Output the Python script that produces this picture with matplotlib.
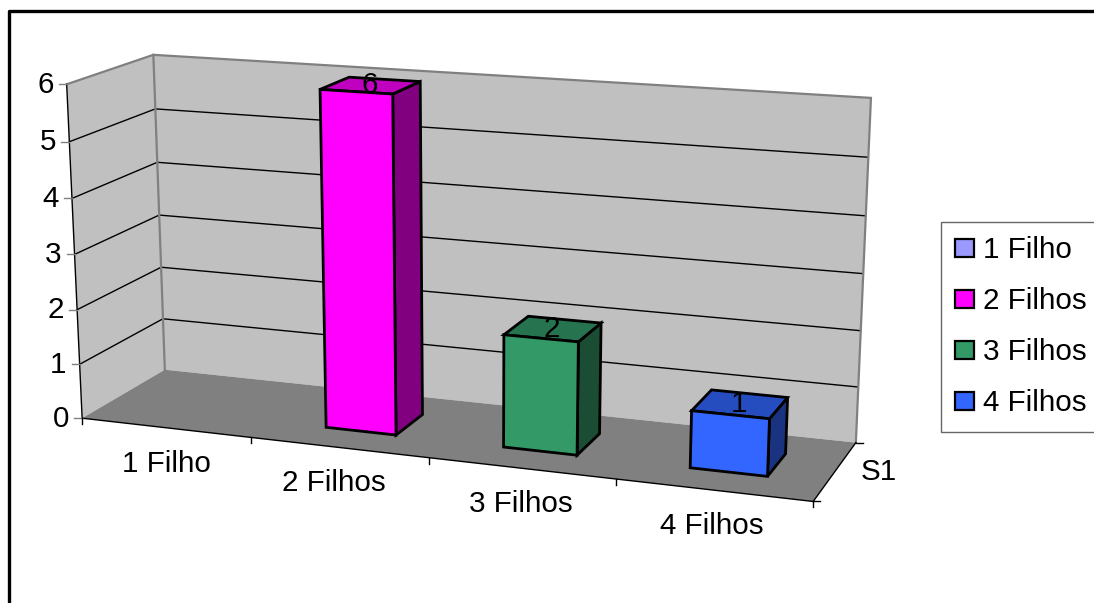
import matplotlib
matplotlib.use("Agg")
import matplotlib.pyplot as plt
import numpy as np
from matplotlib.patches import Patch

plt.rcParams["font.family"] = ["Liberation Sans", "DejaVu Sans"]

categories = ["1 Filho", "2 Filhos", "3 Filhos", "4 Filhos"]
values = [0, 6, 2, 1]
front_colors = ["#9999ff", "#ff00ff", "#339966", "#3366ff"]
top_colors = ["#7373bf", "#bf00bf", "#267350", "#264dbf"]
side_colors = ["#4d4d80", "#800080", "#1a4d33", "#1a3380"]
y_ticks = [0, 1, 2, 3, 4, 5, 6]
series_name = "S1"

FONT = 21.3
BAR_W = 0.4
DEPTH_FRONT = 0.3
DEPTH_BACK = 0.69
LABEL_DX = [1, -5, -1, -2]

# corners of the chart box: (category, depth, value) -> pixel
box_data = [(0, 0, 0), (0, 1, 0), (4, 1, 0), (4, 0, 0), (0, 0, 6), (0, 1, 6), (4, 1, 6)]
box_px = [(82, 418), (165, 370), (856, 442), (813, 502), (67, 84), (153, 55), (871, 98)]


def fit_projection():
    rows = []
    rhs = []
    for (a, b, c), (px, py) in zip(box_data, box_px):
        rows.append([a, b, c, 1, 0, 0, 0, 0, -px * a, -px * b, -px * c])
        rows.append([0, 0, 0, 0, a, b, c, 1, -py * a, -py * b, -py * c])
        rhs += [px, py]
    m = np.linalg.lstsq(np.array(rows, float), np.array(rhs, float), rcond=None)[0]
    return np.append(m, 1).reshape(3, 4)


M = fit_projection()


def proj(a, b, c):
    p = M @ np.array([a, b, c, 1.0])
    return p[0] / p[2], p[1] / p[2]


def face(ax, pts, color, edge="none", lw=0, z=1):
    xy = [proj(*p) for p in pts]
    ax.fill([q[0] for q in xy], [q[1] for q in xy], facecolor=color, edgecolor=edge,
            linewidth=lw, zorder=z, joinstyle="miter")


def line3(ax, pts, color="black", lw=1.0, z=2):
    xy = [proj(*p) for p in pts]
    ax.plot([q[0] for q in xy], [q[1] for q in xy], color=color, linewidth=lw, zorder=z,
            solid_joinstyle="miter")


fig = plt.figure(figsize=(10.94, 6.03), dpi=100)
ax = fig.add_axes([0, 0, 1, 1])
ax.set_xlim(0, 1094)
ax.set_ylim(603, 0)
ax.axis("off")

# outer frame of the chart area
ax.plot([9, 9, 1094], [603, 11, 11], color="black", linewidth=2.4, zorder=1)

n = len(categories)
top = max(y_ticks)

# walls and floor
face(ax, [(0, 0, 0), (0, 1, 0), (0, 1, top), (0, 0, top)], "#c0c0c0")
face(ax, [(0, 1, 0), (n, 1, 0), (n, 1, top), (0, 1, top)], "#c0c0c0")
face(ax, [(0, 0, 0), (n, 0, 0), (n, 1, 0), (0, 1, 0)], "#808080")

for v in y_ticks[1:-1]:
    line3(ax, [(0, 0, v), (0, 1, v), (n, 1, v)], lw=1.0)
line3(ax, [(0, 0, top), (0, 1, top), (n, 1, top), (n, 1, 0)], color="#808080", lw=1.6)
line3(ax, [(0, 1, top), (0, 1, 0)], color="#808080", lw=1.6)
line3(ax, [(0, 0, top), (0, 0, 0), (n, 0, 0), (n, 1, 0)], lw=1.0)

# value axis ticks and labels
for v in y_ticks:
    x, y = proj(0, 0, v)
    ax.plot([x - 8, x], [y, y], color="#808080", linewidth=1.0, zorder=2)
    ax.text(x - 13, y + 0.5, str(v), ha="right", va="center", fontsize=FONT, color="black")

# category ticks and labels
for i in range(n + 1):
    x, y = proj(i, 0, 0)
    ax.plot([x, x], [y, y + 6], color="black", linewidth=1.0, zorder=2)
for i, name in enumerate(categories):
    x, y = proj(i + 0.5, 0, 0)
    ax.text(x + LABEL_DX[i], y + 36, name, ha="center", va="center", fontsize=FONT, color="black")

# depth axis ticks and series label
for b in [0, 1]:
    x, y = proj(n, b, 0)
    ax.plot([x, x + 7], [y, y], color="black", linewidth=1.0, zorder=2)
x, y = proj(n, 0.5, 0)
ax.text(x + 44, y + 1, series_name, ha="center", va="center", fontsize=FONT, color="black")

# bars
for i, v in enumerate(values):
    if v == 0:
        continue
    x0 = i + 0.5 - BAR_W / 2
    x1 = i + 0.5 + BAR_W / 2
    d0 = DEPTH_FRONT
    d1 = DEPTH_BACK
    face(ax, [(x1, d0, 0), (x1, d1, 0), (x1, d1, v), (x1, d0, v)], side_colors[i], "black", 2.0, 3)
    face(ax, [(x0, d0, v), (x1, d0, v), (x1, d1, v), (x0, d1, v)], top_colors[i], "black", 2.0, 3)
    face(ax, [(x0, d0, 0), (x1, d0, 0), (x1, d0, v), (x0, d0, v)], front_colors[i], "black", 2.0, 3)
    lx, ly = proj(i + 0.5, (d0 + d1) / 2, v)
    ax.text(lx - 1, ly, str(v), ha="center", va="center", fontsize=FONT, color="black", zorder=4)

# legend
handles = [Patch(facecolor=c, edgecolor="black", linewidth=1.6) for c in front_colors]
leg = ax.legend(handles, categories, loc="upper left", bbox_to_anchor=(941, 222, 160, 211),
                bbox_transform=ax.transData, mode="expand", borderaxespad=0, fontsize=FONT,
                handlelength=0.65, handleheight=0.58, handletextpad=0.3, labelspacing=0.78,
                borderpad=0.48, fancybox=False, framealpha=1, edgecolor="#666666")
leg.get_frame().set_linewidth(1.0)

fig.savefig("out.png", dpi=100)
